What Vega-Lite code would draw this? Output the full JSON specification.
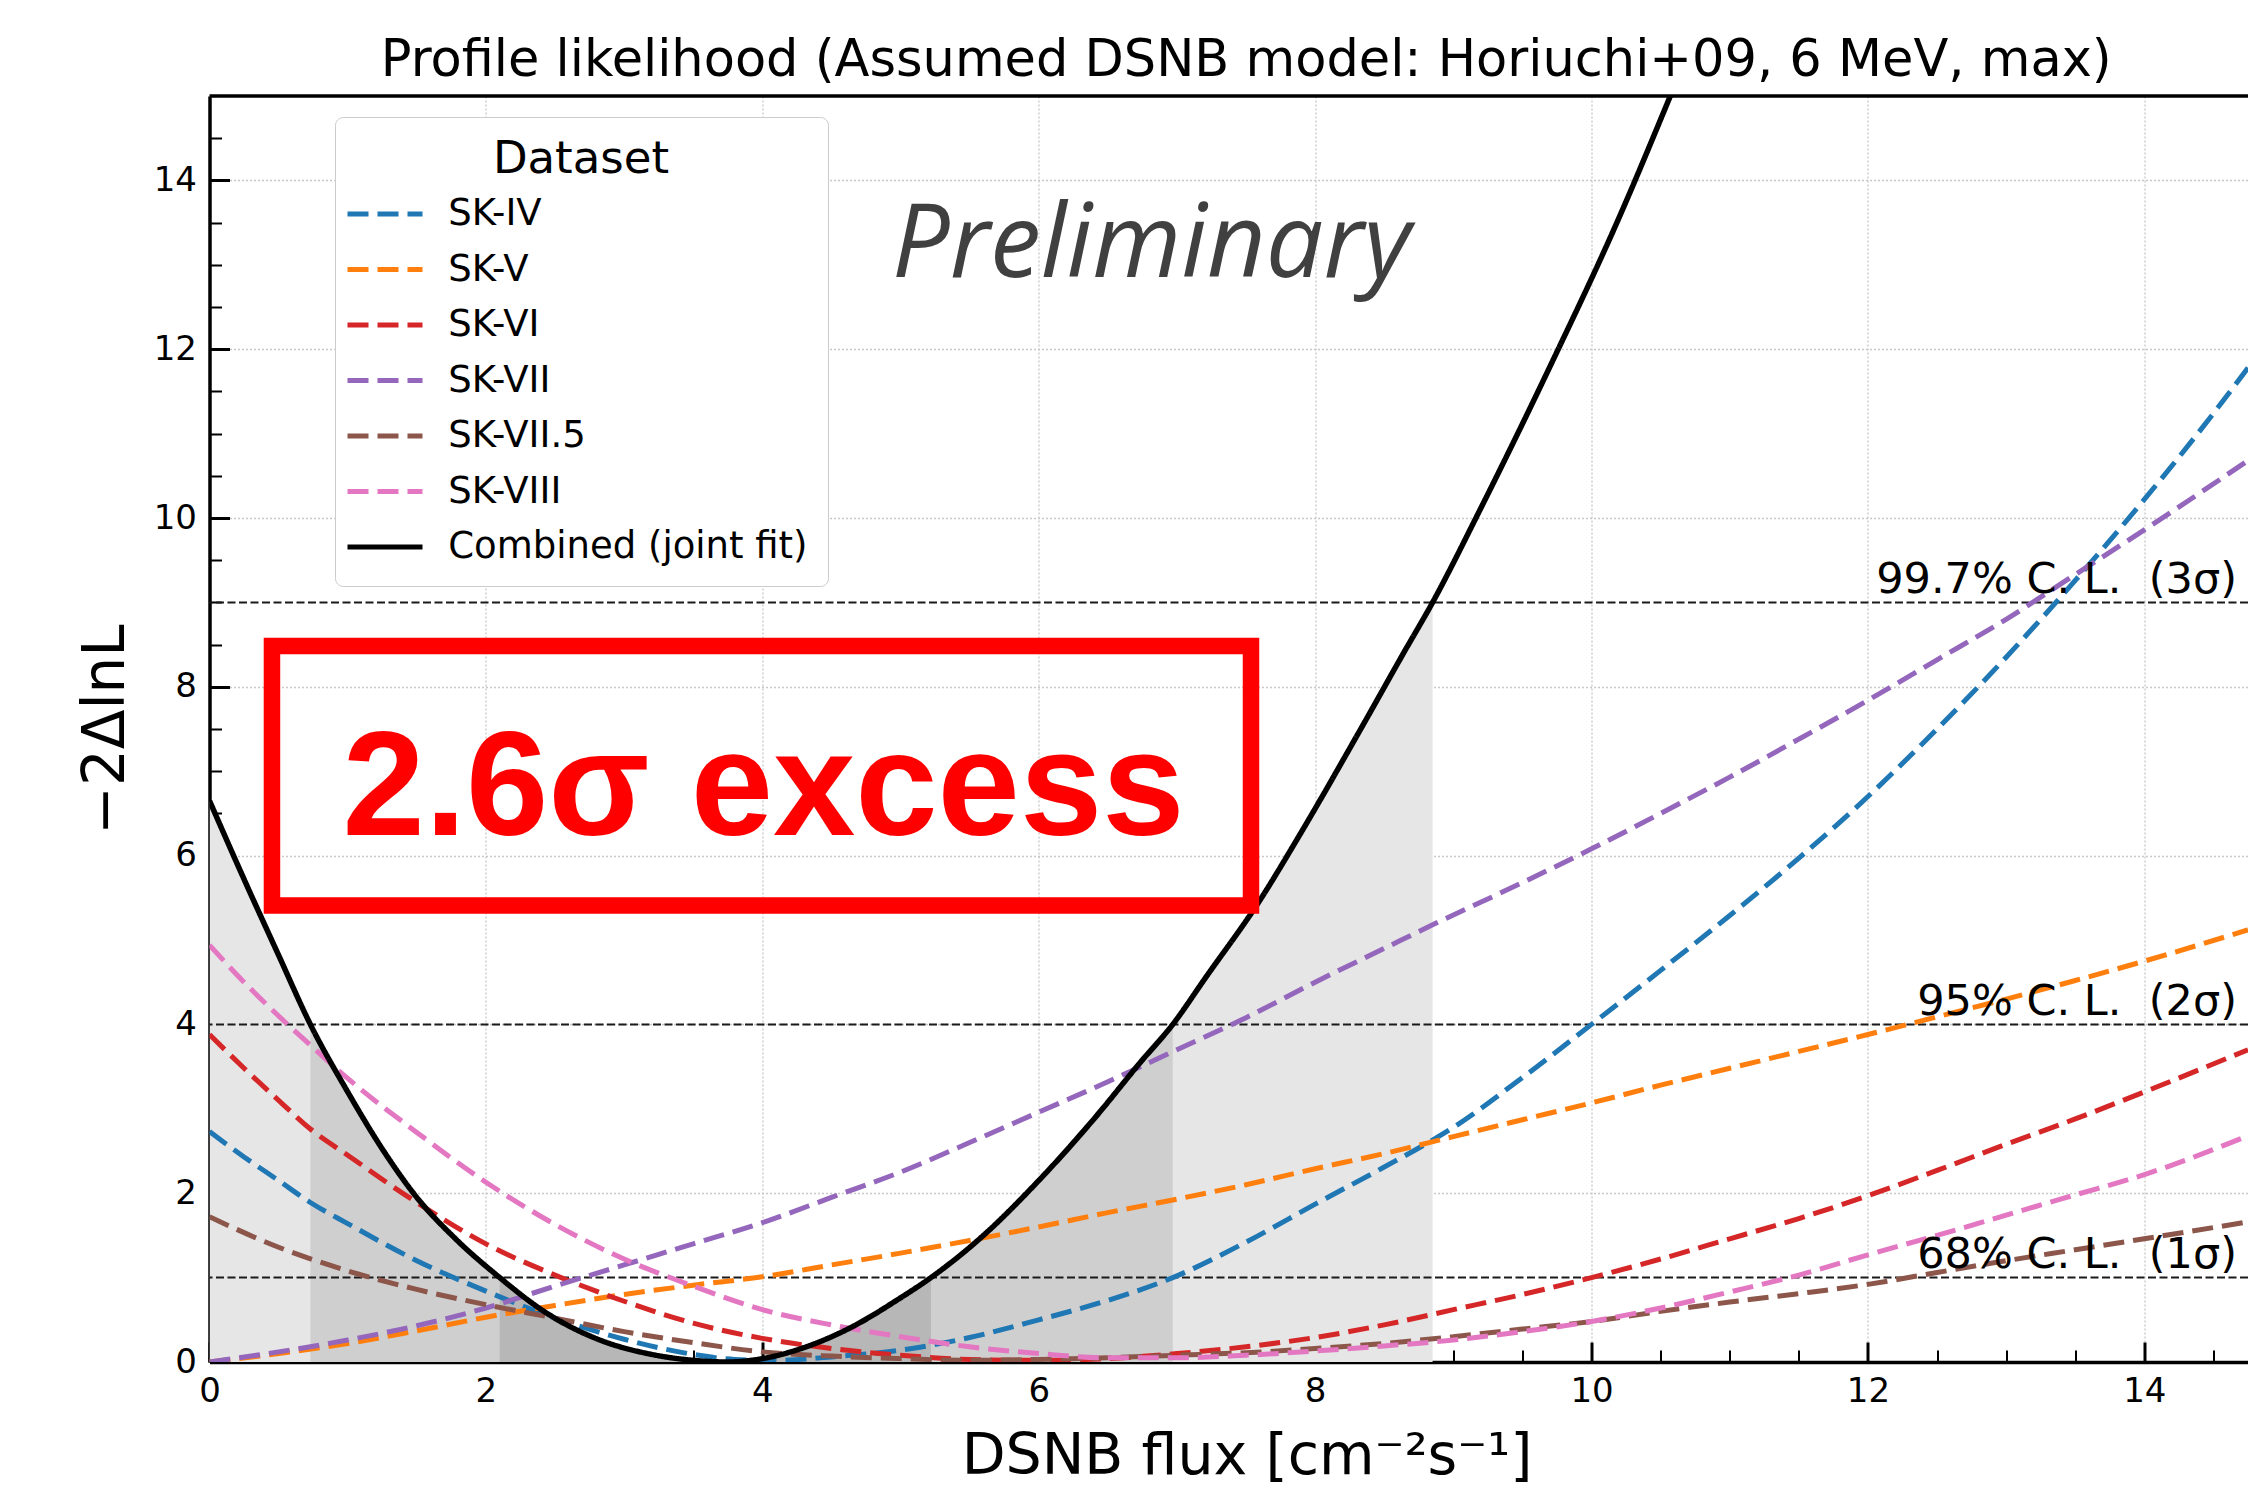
{
  "$schema": "https://vega.github.io/schema/vega-lite/v6.json",
  "width": 2038.5,
  "height": 1266,
  "autosize": {"type": "none"},
  "padding": {"left": 209.5, "top": 96, "right": 0, "bottom": 126},
  "background": "white",
  "title": {"text": "Profile likelihood (Assumed DSNB model: Horiuchi+09, 6 MeV, max)", "font": "DejaVu Sans", "fontSize": 51, "fontWeight": "normal", "color": "black", "anchor": "middle", "frame": "group", "offset": -33, "baseline": "alphabetic", "dx": 17.5},
  "config": {
    "font": "DejaVu Sans",
    "view": {"stroke": null},
    "axis": {"domainColor": "black", "domainWidth": 3.5, "tickColor": "black", "labelColor": "black", "labelFont": "DejaVu Sans", "labelFontSize": 34, "titleFont": "DejaVu Sans", "titleFontWeight": "normal", "titleColor": "black", "gridColor": "#c8c8c8", "gridDash": [2, 2], "gridWidth": 1.3}
  },
  "datasets": {
    "combined": [
      {"dataset": "Combined (joint fit)", "x": 0, "y": 6.65}, {"dataset": "Combined (joint fit)", "x": 0.25, "y": 5.72}, {"dataset": "Combined (joint fit)", "x": 0.5, "y": 4.82}, {"dataset": "Combined (joint fit)", "x": 0.73, "y": 4.0}, {"dataset": "Combined (joint fit)", "x": 1, "y": 3.2}, {"dataset": "Combined (joint fit)", "x": 1.26, "y": 2.5}, {"dataset": "Combined (joint fit)", "x": 1.5, "y": 1.95}, {"dataset": "Combined (joint fit)", "x": 1.78, "y": 1.46}, {"dataset": "Combined (joint fit)", "x": 2.1, "y": 1.0}, {"dataset": "Combined (joint fit)", "x": 2.42, "y": 0.6}, {"dataset": "Combined (joint fit)", "x": 2.81, "y": 0.27}, {"dataset": "Combined (joint fit)", "x": 3.2, "y": 0.09}, {"dataset": "Combined (joint fit)", "x": 3.5, "y": 0.02}, {"dataset": "Combined (joint fit)", "x": 3.75, "y": 0.0}, {"dataset": "Combined (joint fit)", "x": 4, "y": 0.04}, {"dataset": "Combined (joint fit)", "x": 4.3, "y": 0.17}, {"dataset": "Combined (joint fit)", "x": 4.63, "y": 0.4}, {"dataset": "Combined (joint fit)", "x": 5, "y": 0.76}, {"dataset": "Combined (joint fit)", "x": 5.22, "y": 1.0}, {"dataset": "Combined (joint fit)", "x": 5.6, "y": 1.5}, {"dataset": "Combined (joint fit)", "x": 6, "y": 2.15}, {"dataset": "Combined (joint fit)", "x": 6.41, "y": 2.9}, {"dataset": "Combined (joint fit)", "x": 6.73, "y": 3.54}, {"dataset": "Combined (joint fit)", "x": 6.97, "y": 4.0}, {"dataset": "Combined (joint fit)", "x": 7.21, "y": 4.56}, {"dataset": "Combined (joint fit)", "x": 7.6, "y": 5.47}, {"dataset": "Combined (joint fit)", "x": 7.89, "y": 6.25}, {"dataset": "Combined (joint fit)", "x": 8.33, "y": 7.5}, {"dataset": "Combined (joint fit)", "x": 8.64, "y": 8.4}, {"dataset": "Combined (joint fit)", "x": 8.85, "y": 9.0}, {"dataset": "Combined (joint fit)", "x": 9.2, "y": 10.12}, {"dataset": "Combined (joint fit)", "x": 9.73, "y": 11.9}, {"dataset": "Combined (joint fit)", "x": 10.17, "y": 13.45}, {"dataset": "Combined (joint fit)", "x": 10.57, "y": 15.0}
    ],
    "ind": [
      {"dataset": "SK-IV", "x": 0, "y": 2.73}, {"dataset": "SK-IV", "x": 0.25, "y": 2.43}, {"dataset": "SK-IV", "x": 0.5, "y": 2.15}, {"dataset": "SK-IV", "x": 0.73, "y": 1.89}, {"dataset": "SK-IV", "x": 1, "y": 1.64}, {"dataset": "SK-IV", "x": 1.5, "y": 1.2}, {"dataset": "SK-IV", "x": 2, "y": 0.84}, {"dataset": "SK-IV", "x": 2.5, "y": 0.52}, {"dataset": "SK-IV", "x": 3, "y": 0.27}, {"dataset": "SK-IV", "x": 3.5, "y": 0.09}, {"dataset": "SK-IV", "x": 3.8, "y": 0.03}, {"dataset": "SK-IV", "x": 4.1, "y": 0.02}, {"dataset": "SK-IV", "x": 4.5, "y": 0.06}, {"dataset": "SK-IV", "x": 5, "y": 0.14}, {"dataset": "SK-IV", "x": 5.5, "y": 0.29}, {"dataset": "SK-IV", "x": 6, "y": 0.5}, {"dataset": "SK-IV", "x": 6.5, "y": 0.73}, {"dataset": "SK-IV", "x": 6.97, "y": 1.0}, {"dataset": "SK-IV", "x": 7.5, "y": 1.42}, {"dataset": "SK-IV", "x": 8, "y": 1.87}, {"dataset": "SK-IV", "x": 8.5, "y": 2.31}, {"dataset": "SK-IV", "x": 8.85, "y": 2.63}, {"dataset": "SK-IV", "x": 9, "y": 2.78}, {"dataset": "SK-IV", "x": 9.5, "y": 3.37}, {"dataset": "SK-IV", "x": 10, "y": 4.0}, {"dataset": "SK-IV", "x": 10.5, "y": 4.64}, {"dataset": "SK-IV", "x": 11, "y": 5.29}, {"dataset": "SK-IV", "x": 11.5, "y": 5.97}, {"dataset": "SK-IV", "x": 12, "y": 6.7}, {"dataset": "SK-IV", "x": 12.5, "y": 7.5}, {"dataset": "SK-IV", "x": 13, "y": 8.35}, {"dataset": "SK-IV", "x": 13.5, "y": 9.26}, {"dataset": "SK-IV", "x": 14, "y": 10.22}, {"dataset": "SK-IV", "x": 14.5, "y": 11.24}, {"dataset": "SK-IV", "x": 14.75, "y": 11.78},
      {"dataset": "SK-V", "x": 0, "y": 0.0}, {"dataset": "SK-V", "x": 0.5, "y": 0.1}, {"dataset": "SK-V", "x": 1, "y": 0.22}, {"dataset": "SK-V", "x": 1.5, "y": 0.37}, {"dataset": "SK-V", "x": 2, "y": 0.53}, {"dataset": "SK-V", "x": 2.5, "y": 0.67}, {"dataset": "SK-V", "x": 3, "y": 0.8}, {"dataset": "SK-V", "x": 3.5, "y": 0.91}, {"dataset": "SK-V", "x": 4, "y": 1.01}, {"dataset": "SK-V", "x": 4.5, "y": 1.15}, {"dataset": "SK-V", "x": 5, "y": 1.29}, {"dataset": "SK-V", "x": 5.5, "y": 1.44}, {"dataset": "SK-V", "x": 6, "y": 1.6}, {"dataset": "SK-V", "x": 6.5, "y": 1.77}, {"dataset": "SK-V", "x": 7, "y": 1.93}, {"dataset": "SK-V", "x": 7.5, "y": 2.1}, {"dataset": "SK-V", "x": 8, "y": 2.29}, {"dataset": "SK-V", "x": 8.5, "y": 2.47}, {"dataset": "SK-V", "x": 9, "y": 2.67}, {"dataset": "SK-V", "x": 9.5, "y": 2.87}, {"dataset": "SK-V", "x": 10, "y": 3.07}, {"dataset": "SK-V", "x": 10.5, "y": 3.28}, {"dataset": "SK-V", "x": 11, "y": 3.48}, {"dataset": "SK-V", "x": 11.5, "y": 3.68}, {"dataset": "SK-V", "x": 12, "y": 3.88}, {"dataset": "SK-V", "x": 12.5, "y": 4.09}, {"dataset": "SK-V", "x": 13, "y": 4.3}, {"dataset": "SK-V", "x": 13.5, "y": 4.52}, {"dataset": "SK-V", "x": 14, "y": 4.75}, {"dataset": "SK-V", "x": 14.75, "y": 5.12},
      {"dataset": "SK-VI", "x": 0, "y": 3.88}, {"dataset": "SK-VI", "x": 0.25, "y": 3.48}, {"dataset": "SK-VI", "x": 0.5, "y": 3.1}, {"dataset": "SK-VI", "x": 0.73, "y": 2.76}, {"dataset": "SK-VI", "x": 1, "y": 2.45}, {"dataset": "SK-VI", "x": 1.5, "y": 1.89}, {"dataset": "SK-VI", "x": 2, "y": 1.4}, {"dataset": "SK-VI", "x": 2.5, "y": 1.03}, {"dataset": "SK-VI", "x": 3, "y": 0.72}, {"dataset": "SK-VI", "x": 3.5, "y": 0.46}, {"dataset": "SK-VI", "x": 4, "y": 0.28}, {"dataset": "SK-VI", "x": 4.5, "y": 0.16}, {"dataset": "SK-VI", "x": 5, "y": 0.08}, {"dataset": "SK-VI", "x": 5.5, "y": 0.03}, {"dataset": "SK-VI", "x": 6, "y": 0.02}, {"dataset": "SK-VI", "x": 6.5, "y": 0.04}, {"dataset": "SK-VI", "x": 7, "y": 0.1}, {"dataset": "SK-VI", "x": 7.5, "y": 0.18}, {"dataset": "SK-VI", "x": 8, "y": 0.29}, {"dataset": "SK-VI", "x": 8.5, "y": 0.44}, {"dataset": "SK-VI", "x": 9, "y": 0.62}, {"dataset": "SK-VI", "x": 9.5, "y": 0.8}, {"dataset": "SK-VI", "x": 10, "y": 1.0}, {"dataset": "SK-VI", "x": 10.5, "y": 1.22}, {"dataset": "SK-VI", "x": 11, "y": 1.46}, {"dataset": "SK-VI", "x": 11.5, "y": 1.7}, {"dataset": "SK-VI", "x": 12, "y": 1.97}, {"dataset": "SK-VI", "x": 12.5, "y": 2.27}, {"dataset": "SK-VI", "x": 13, "y": 2.58}, {"dataset": "SK-VI", "x": 13.5, "y": 2.88}, {"dataset": "SK-VI", "x": 14, "y": 3.2}, {"dataset": "SK-VI", "x": 14.75, "y": 3.7},
      {"dataset": "SK-VII", "x": 0, "y": 0.0}, {"dataset": "SK-VII", "x": 0.5, "y": 0.12}, {"dataset": "SK-VII", "x": 1, "y": 0.26}, {"dataset": "SK-VII", "x": 1.5, "y": 0.43}, {"dataset": "SK-VII", "x": 2, "y": 0.64}, {"dataset": "SK-VII", "x": 2.5, "y": 0.9}, {"dataset": "SK-VII", "x": 3, "y": 1.15}, {"dataset": "SK-VII", "x": 3.5, "y": 1.4}, {"dataset": "SK-VII", "x": 4, "y": 1.65}, {"dataset": "SK-VII", "x": 4.5, "y": 1.95}, {"dataset": "SK-VII", "x": 5, "y": 2.25}, {"dataset": "SK-VII", "x": 5.5, "y": 2.6}, {"dataset": "SK-VII", "x": 6, "y": 2.96}, {"dataset": "SK-VII", "x": 6.5, "y": 3.32}, {"dataset": "SK-VII", "x": 7, "y": 3.7}, {"dataset": "SK-VII", "x": 7.5, "y": 4.08}, {"dataset": "SK-VII", "x": 8, "y": 4.5}, {"dataset": "SK-VII", "x": 8.5, "y": 4.9}, {"dataset": "SK-VII", "x": 8.85, "y": 5.18}, {"dataset": "SK-VII", "x": 9.5, "y": 5.68}, {"dataset": "SK-VII", "x": 10, "y": 6.08}, {"dataset": "SK-VII", "x": 10.5, "y": 6.5}, {"dataset": "SK-VII", "x": 11, "y": 6.93}, {"dataset": "SK-VII", "x": 11.5, "y": 7.38}, {"dataset": "SK-VII", "x": 12, "y": 7.84}, {"dataset": "SK-VII", "x": 12.5, "y": 8.32}, {"dataset": "SK-VII", "x": 13, "y": 8.8}, {"dataset": "SK-VII", "x": 13.5, "y": 9.33}, {"dataset": "SK-VII", "x": 14, "y": 9.86}, {"dataset": "SK-VII", "x": 14.75, "y": 10.68},
      {"dataset": "SK-VII.5", "x": 0, "y": 1.72}, {"dataset": "SK-VII.5", "x": 0.5, "y": 1.36}, {"dataset": "SK-VII.5", "x": 1, "y": 1.08}, {"dataset": "SK-VII.5", "x": 1.5, "y": 0.86}, {"dataset": "SK-VII.5", "x": 2, "y": 0.68}, {"dataset": "SK-VII.5", "x": 2.5, "y": 0.52}, {"dataset": "SK-VII.5", "x": 3, "y": 0.36}, {"dataset": "SK-VII.5", "x": 3.5, "y": 0.23}, {"dataset": "SK-VII.5", "x": 4, "y": 0.12}, {"dataset": "SK-VII.5", "x": 4.5, "y": 0.07}, {"dataset": "SK-VII.5", "x": 5, "y": 0.04}, {"dataset": "SK-VII.5", "x": 5.5, "y": 0.02}, {"dataset": "SK-VII.5", "x": 6, "y": 0.03}, {"dataset": "SK-VII.5", "x": 6.5, "y": 0.05}, {"dataset": "SK-VII.5", "x": 7, "y": 0.08}, {"dataset": "SK-VII.5", "x": 7.5, "y": 0.11}, {"dataset": "SK-VII.5", "x": 8, "y": 0.16}, {"dataset": "SK-VII.5", "x": 8.5, "y": 0.22}, {"dataset": "SK-VII.5", "x": 9, "y": 0.3}, {"dataset": "SK-VII.5", "x": 9.5, "y": 0.39}, {"dataset": "SK-VII.5", "x": 10, "y": 0.48}, {"dataset": "SK-VII.5", "x": 10.5, "y": 0.6}, {"dataset": "SK-VII.5", "x": 11, "y": 0.71}, {"dataset": "SK-VII.5", "x": 11.5, "y": 0.81}, {"dataset": "SK-VII.5", "x": 12, "y": 0.92}, {"dataset": "SK-VII.5", "x": 12.5, "y": 1.06}, {"dataset": "SK-VII.5", "x": 13, "y": 1.2}, {"dataset": "SK-VII.5", "x": 13.5, "y": 1.33}, {"dataset": "SK-VII.5", "x": 14, "y": 1.46}, {"dataset": "SK-VII.5", "x": 14.75, "y": 1.66},
      {"dataset": "SK-VIII", "x": 0, "y": 4.94}, {"dataset": "SK-VIII", "x": 0.25, "y": 4.5}, {"dataset": "SK-VIII", "x": 0.5, "y": 4.1}, {"dataset": "SK-VIII", "x": 0.74, "y": 3.74}, {"dataset": "SK-VIII", "x": 1, "y": 3.36}, {"dataset": "SK-VIII", "x": 1.5, "y": 2.72}, {"dataset": "SK-VIII", "x": 2, "y": 2.13}, {"dataset": "SK-VIII", "x": 2.5, "y": 1.63}, {"dataset": "SK-VIII", "x": 3, "y": 1.22}, {"dataset": "SK-VIII", "x": 3.5, "y": 0.9}, {"dataset": "SK-VIII", "x": 4, "y": 0.62}, {"dataset": "SK-VIII", "x": 4.5, "y": 0.44}, {"dataset": "SK-VIII", "x": 5, "y": 0.3}, {"dataset": "SK-VIII", "x": 5.5, "y": 0.18}, {"dataset": "SK-VIII", "x": 6, "y": 0.1}, {"dataset": "SK-VIII", "x": 6.5, "y": 0.05}, {"dataset": "SK-VIII", "x": 7, "y": 0.05}, {"dataset": "SK-VIII", "x": 7.5, "y": 0.08}, {"dataset": "SK-VIII", "x": 8, "y": 0.13}, {"dataset": "SK-VIII", "x": 8.5, "y": 0.19}, {"dataset": "SK-VIII", "x": 9, "y": 0.26}, {"dataset": "SK-VIII", "x": 9.5, "y": 0.36}, {"dataset": "SK-VIII", "x": 10, "y": 0.48}, {"dataset": "SK-VIII", "x": 10.5, "y": 0.64}, {"dataset": "SK-VIII", "x": 11, "y": 0.83}, {"dataset": "SK-VIII", "x": 11.5, "y": 1.03}, {"dataset": "SK-VIII", "x": 12, "y": 1.27}, {"dataset": "SK-VIII", "x": 12.5, "y": 1.5}, {"dataset": "SK-VIII", "x": 13, "y": 1.74}, {"dataset": "SK-VIII", "x": 13.5, "y": 1.98}, {"dataset": "SK-VIII", "x": 14, "y": 2.22}, {"dataset": "SK-VIII", "x": 14.75, "y": 2.68}
    ],
    "levels": [{"y": 1}, {"y": 4}, {"y": 9}],
    "top": [{"y": 15}],
    "cl": [
      {"x": 14.67, "y": 9, "label": "99.7% C. L.\u00a0 (3σ)"},
      {"x": 14.67, "y": 4, "label": "95% C. L.\u00a0 (2σ)"},
      {"x": 14.67, "y": 1, "label": "68% C. L.\u00a0 (1σ)"}
    ],
    "prelim": [{"x": 6.815, "y": 12.86, "label": "Preliminary"}],
    "box": [{"x": 0.452, "x2": 7.536, "y": 8.483, "y2": 5.41}],
    "excess": [{"x": 4.009, "y": 6.244, "label": "2.6σ excess"}]
  },
  "layer": [
    {
      "data": {"name": "combined"},
      "transform": [{"filter": {"field": "x", "range": [0, 8.85]}}],
      "mark": {"type": "area", "color": "#e6e6e6", "interpolate": "monotone", "clip": true},
      "encoding": {
        "x": {"field": "x", "type": "quantitative", "scale": {"domain": [0, 14.75], "nice": false, "zero": false},
          "axis": {
            "values": [0, 0.5, 1, 1.5, 2, 2.5, 3, 3.5, 4, 4.5, 5, 5.5, 6, 6.5, 7, 7.5, 8, 8.5, 9, 9.5, 10, 10.5, 11, 11.5, 12, 12.5, 13, 13.5, 14, 14.5],
            "labelExpr": "datum.value % 2 === 0 ? format(datum.value, 'd') : ''",
            "labelOverlap": false, "labelFlush": false, "labelFontSize": 34, "labelPadding": 32,
            "tickSize": {"condition": {"test": "datum.value % 2 === 0", "value": -20}, "value": -12},
            "tickWidth": {"condition": {"test": "datum.value % 2 === 0", "value": 3}, "value": 2},
            "grid": true,
            "gridOpacity": {"condition": {"test": "datum.value % 2 === 0 && datum.value > 0", "value": 1}, "value": 0},
            "title": "DSNB flux [cm⁻²s⁻¹]", "titleFontSize": 57, "titleX": 1037, "titleY": 111, "titleBaseline": "alphabetic", "titleAlign": "center"
          }
        },
        "y": {"field": "y", "type": "quantitative", "scale": {"domain": [0, 15], "nice": false},
          "axis": {
            "values": [0, 0.5, 1, 1.5, 2, 2.5, 3, 3.5, 4, 4.5, 5, 5.5, 6, 6.5, 7, 7.5, 8, 8.5, 9, 9.5, 10, 10.5, 11, 11.5, 12, 12.5, 13, 13.5, 14, 14.5],
            "labelExpr": "datum.value % 2 === 0 ? format(datum.value, 'd') : ''",
            "labelOverlap": false, "labelFlush": false, "labelFontSize": 34, "labelPadding": 33,
            "tickSize": {"condition": {"test": "datum.value % 2 === 0", "value": -20}, "value": -12},
            "tickWidth": {"condition": {"test": "datum.value % 2 === 0", "value": 3}, "value": 2},
            "grid": true,
            "gridOpacity": {"condition": {"test": "datum.value % 2 === 0 && datum.value > 0", "value": 1}, "value": 0},
            "title": "−2ΔlnL", "titleFontSize": 58, "titleX": -103, "titleY": 633, "titleAngle": 270, "titleBaseline": "middle", "titleAlign": "center"
          }
        }
      }
    },
    {
      "data": {"name": "combined"},
      "transform": [{"filter": {"field": "x", "range": [0.73, 6.97]}}],
      "mark": {"type": "area", "color": "#cfcfcf", "interpolate": "monotone", "clip": true},
      "encoding": {
        "x": {"field": "x", "type": "quantitative", "scale": {"domain": [0, 14.75], "nice": false, "zero": false}},
        "y": {"field": "y", "type": "quantitative", "scale": {"domain": [0, 15], "nice": false}}
      }
    },
    {
      "data": {"name": "combined"},
      "transform": [{"filter": {"field": "x", "range": [2.1, 5.22]}}],
      "mark": {"type": "area", "color": "#b7b7b7", "interpolate": "monotone", "clip": true},
      "encoding": {
        "x": {"field": "x", "type": "quantitative", "scale": {"domain": [0, 14.75], "nice": false, "zero": false}},
        "y": {"field": "y", "type": "quantitative", "scale": {"domain": [0, 15], "nice": false}}
      }
    },
    {
      "data": {"name": "levels"},
      "mark": {"type": "rule", "strokeDash": [8, 3.5], "strokeWidth": 2, "color": "#1a1a1a"},
      "encoding": {"y": {"field": "y", "type": "quantitative", "scale": {"domain": [0, 15], "nice": false}}}
    },
    {
      "data": {"name": "ind"},
      "mark": {"type": "line", "strokeWidth": 5, "interpolate": "monotone", "clip": true},
      "encoding": {
        "x": {"field": "x", "type": "quantitative", "scale": {"domain": [0, 14.75], "nice": false, "zero": false}},
        "y": {"field": "y", "type": "quantitative", "scale": {"domain": [0, 15], "nice": false}},
        "color": {"field": "dataset", "type": "nominal",
          "scale": {"domain": ["SK-IV", "SK-V", "SK-VI", "SK-VII", "SK-VII.5", "SK-VIII", "Combined (joint fit)"], "range": ["#1f77b4", "#ff7f0e", "#d62728", "#9467bd", "#8c564b", "#e377c2", "#000000"]},
          "legend": {"title": "Dataset", "orient": "none", "legendX": 125.5, "legendY": 21, "direction": "vertical", "titleFontSize": 45, "titleFontWeight": "normal", "titleColor": "black", "titleFont": "DejaVu Sans", "titleAnchor": "middle", "titlePadding": 4.6, "labelFontSize": 37, "labelColor": "black", "labelFont": "DejaVu Sans", "labelLimit": 800, "symbolType": "M-1.5,0H1.5", "symbolSize": 2500, "symbolStrokeWidth": 5, "symbolOffset": 2.5, "labelOffset": 35.7, "padding": 20, "rowPadding": 9.5, "fillColor": "white", "strokeColor": "#cccccc", "cornerRadius": 8}
        },
        "strokeDash": {"field": "dataset", "type": "nominal",
          "scale": {"domain": ["SK-IV", "SK-V", "SK-VI", "SK-VII", "SK-VII.5", "SK-VIII", "Combined (joint fit)"], "range": [[21, 9], [21, 9], [21, 9], [21, 9], [21, 9], [21, 9], [1, 0]]},
          "legend": {"title": "Dataset", "orient": "none", "legendX": 125.5, "legendY": 21, "direction": "vertical", "titleFontSize": 45, "titleFontWeight": "normal", "titleColor": "black", "titleFont": "DejaVu Sans", "titleAnchor": "middle", "titlePadding": 4.6, "labelFontSize": 37, "labelColor": "black", "labelFont": "DejaVu Sans", "labelLimit": 800, "symbolType": "M-1.5,0H1.5", "symbolSize": 2500, "symbolStrokeWidth": 5, "symbolOffset": 2.5, "labelOffset": 35.7, "padding": 20, "rowPadding": 9.5, "fillColor": "white", "strokeColor": "#cccccc", "cornerRadius": 8}
        }
      }
    },
    {
      "data": {"name": "combined"},
      "mark": {"type": "line", "strokeWidth": 5.5, "interpolate": "monotone", "clip": true},
      "encoding": {
        "x": {"field": "x", "type": "quantitative", "scale": {"domain": [0, 14.75], "nice": false, "zero": false}},
        "y": {"field": "y", "type": "quantitative", "scale": {"domain": [0, 15], "nice": false}},
        "color": {"field": "dataset", "type": "nominal"},
        "strokeDash": {"field": "dataset", "type": "nominal"}
      }
    },
    {
      "data": {"name": "top"},
      "mark": {"type": "rule", "strokeWidth": 3.5, "color": "black"},
      "encoding": {"y": {"field": "y", "type": "quantitative", "scale": {"domain": [0, 15], "nice": false}}}
    },
    {
      "data": {"name": "cl"},
      "mark": {"type": "text", "font": "DejaVu Sans", "fontSize": 43, "align": "right", "baseline": "alphabetic", "dy": -9.5, "color": "black"},
      "encoding": {
        "x": {"field": "x", "type": "quantitative", "scale": {"domain": [0, 14.75], "nice": false, "zero": false}},
        "y": {"field": "y", "type": "quantitative", "scale": {"domain": [0, 15], "nice": false}},
        "text": {"field": "label"}
      }
    },
    {
      "data": {"name": "prelim"},
      "mark": {"type": "text", "font": "Open Sans", "fontStyle": "italic", "fontSize": 102, "align": "center", "baseline": "alphabetic", "color": "#404040"},
      "encoding": {
        "x": {"field": "x", "type": "quantitative", "scale": {"domain": [0, 14.75], "nice": false, "zero": false}},
        "y": {"field": "y", "type": "quantitative", "scale": {"domain": [0, 15], "nice": false}},
        "text": {"field": "label"}
      }
    },
    {
      "data": {"name": "box"},
      "mark": {"type": "rect", "fill": "white", "fillOpacity": 0, "stroke": "#ff0000", "strokeWidth": 16.5},
      "encoding": {
        "x": {"field": "x", "type": "quantitative", "scale": {"domain": [0, 14.75], "nice": false, "zero": false}},
        "x2": {"field": "x2"},
        "y": {"field": "y", "type": "quantitative", "scale": {"domain": [0, 15], "nice": false}},
        "y2": {"field": "y2"}
      }
    },
    {
      "data": {"name": "excess"},
      "mark": {"type": "text", "font": "Liberation Sans", "fontWeight": "bold", "fontSize": 148, "align": "center", "baseline": "alphabetic", "color": "#ff0000"},
      "encoding": {
        "x": {"field": "x", "type": "quantitative", "scale": {"domain": [0, 14.75], "nice": false, "zero": false}},
        "y": {"field": "y", "type": "quantitative", "scale": {"domain": [0, 15], "nice": false}},
        "text": {"field": "label"}
      }
    }
  ]
}
